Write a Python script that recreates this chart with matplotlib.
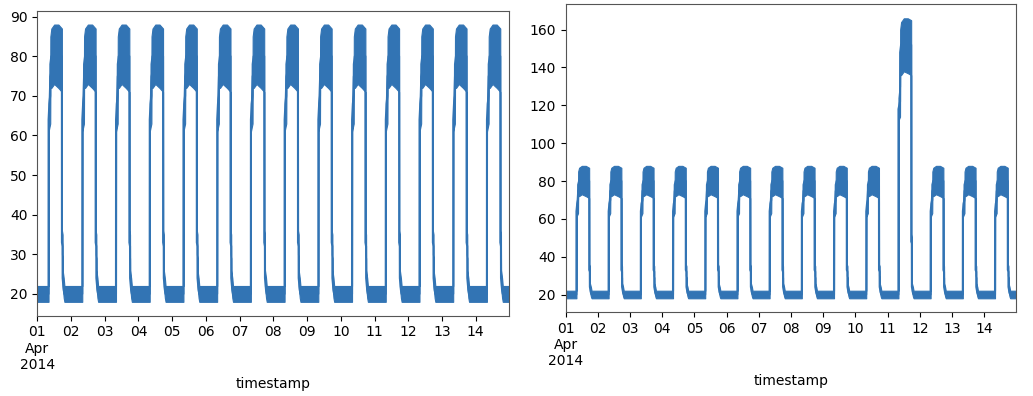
import matplotlib
matplotlib.use("Agg")
import matplotlib.pyplot as plt
import matplotlib.dates as mdates
import numpy as np

# one typical day: hour of day, lower / upper edge of the noisy band, centre
day_hours = [0.0, 8.0, 8.05, 8.6, 9.2, 9.3, 10.0, 12.0, 15.0, 17.5, 17.55, 18.0, 18.05, 18.8, 19.3, 23.95]
day_lo = [18, 18, 61, 62, 63, 72, 72, 73, 72, 71, 30, 29, 22, 19, 18, 18]
day_hi = [22, 22, 68, 75, 76, 85, 87, 88, 88, 87, 36, 35, 26, 24, 22, 22]
day_mid = [20, 20, 64, 68, 70, 78, 80, 80, 80, 80, 33, 32, 24, 21, 20, 20]

# the jump day (11 Apr) in the right plot
jump_lo = [18, 18, 112, 113, 114, 136, 136, 138, 137, 136, 45, 44, 22, 19, 18, 18]
jump_hi = [22, 22, 124, 128, 130, 160, 164, 166, 166, 165, 52, 50, 26, 24, 22, 22]
jump_mid = [20, 20, 118, 120, 122, 148, 152, 152, 152, 152, 48, 47, 24, 21, 20, 20]

days = list(range(1, 15))
jump_days = [11]

start = np.datetime64("2014-04-01T00:00")
color = "#3274b4"


def build(special):
    t, lo, hi, mid = [], [], [], []
    for d in days:
        t0 = start + np.timedelta64(d - 1, "D")
        mins = (np.array(day_hours) * 60).round().astype("timedelta64[m]")
        t.append(t0 + mins)
        if d in special:
            lo.append(jump_lo); hi.append(jump_hi); mid.append(jump_mid)
        else:
            lo.append(day_lo); hi.append(day_hi); mid.append(day_mid)
    t = np.concatenate(t).astype("datetime64[m]").astype(object)
    return mdates.date2num(t), np.concatenate(lo), np.concatenate(hi), np.concatenate(mid)


def fmt(x, pos):
    d = mdates.num2date(x)
    if d.day == 1:
        return d.strftime("%d\n%b\n%Y")
    return d.strftime("%d")


def draw(ax, special):
    t, lo, hi, mid = build(special)
    ax.fill_between(t, lo, hi, color=color, lw=0.8, edgecolor=color)
    ax.plot(t, mid, color=color, lw=1.5)
    ax.set_xlim(t[0], mdates.date2num(np.datetime64("2014-04-14T23:55").astype(object)))
    ax.xaxis.set_major_locator(mdates.DayLocator())
    ax.xaxis.set_major_formatter(plt.FuncFormatter(fmt))
    ax.set_xlabel("timestamp")
    for s in ax.spines.values():
        s.set_color("#555555")


fig = plt.figure(figsize=(10.33, 3.96), dpi=100)
ax1 = fig.add_axes([0.0361, 0.2028, 0.4569, 0.7702])
ax2 = fig.add_axes([0.5476, 0.2114, 0.4363, 0.7777])

draw(ax1, [])
ax1.set_ylim(14.5, 91.5)
ax1.set_yticks([20, 30, 40, 50, 60, 70, 80, 90])

draw(ax2, jump_days)
ax2.set_ylim(10.6, 173.4)
ax2.set_yticks([20, 40, 60, 80, 100, 120, 140, 160])

fig.savefig("out.png", dpi=100)
